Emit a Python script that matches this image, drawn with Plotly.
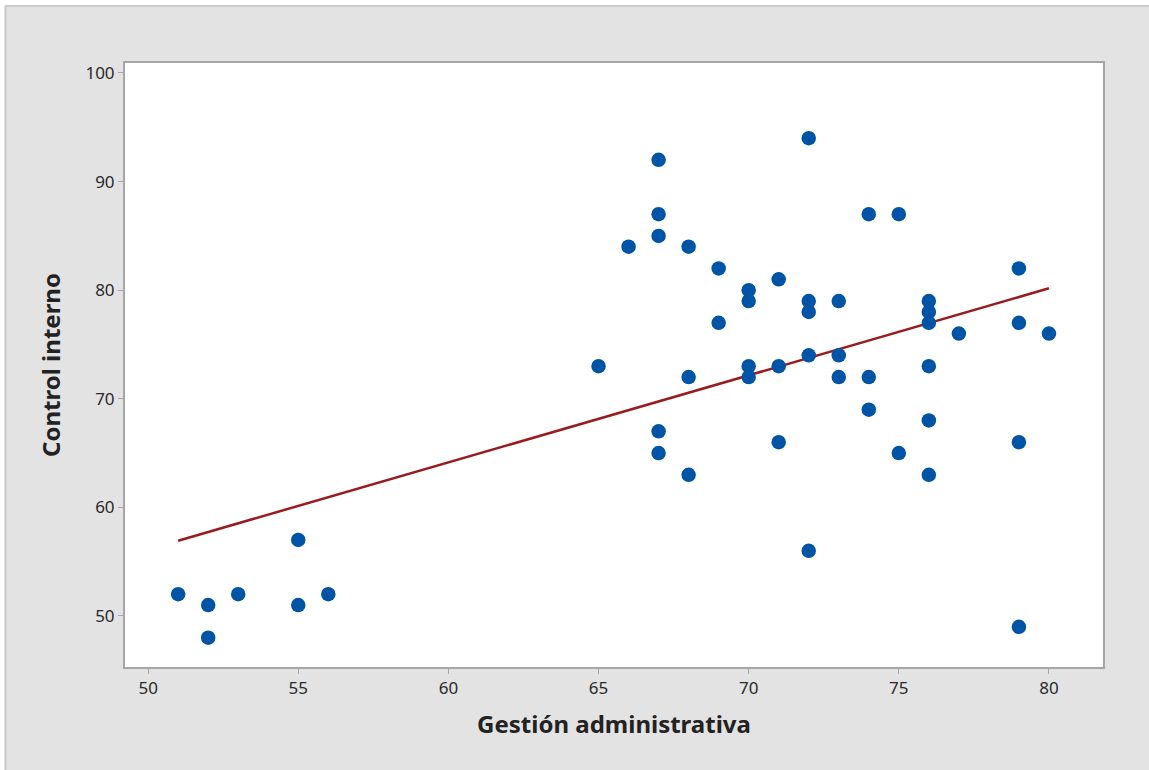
import numpy as np
import plotly.graph_objects as go

gestion = [51, 52, 52, 53, 55, 55, 56, 65, 66, 67, 67, 67, 67, 67, 68, 68, 68,
           69, 69, 70, 70, 70, 70, 71, 71, 71, 72, 72, 72, 72, 72, 73, 73, 73,
           74, 74, 74, 75, 75, 76, 76, 76, 76, 76, 76, 77, 79, 79, 79, 79, 80]
control = [52, 51, 48, 52, 51, 57, 52, 73, 84, 92, 87, 85, 67, 65, 84, 72, 63,
           82, 77, 80, 79, 73, 72, 81, 73, 66, 94, 79, 78, 74, 56, 79, 74, 72,
           87, 72, 69, 87, 65, 79, 78, 77, 73, 68, 63, 76, 82, 77, 66, 49, 76]

x_ticks = [50, 55, 60, 65, 70, 75, 80]
y_ticks = [50, 60, 70, 80, 90, 100]

xa = np.array(gestion, dtype=float)
ya = np.array(control, dtype=float)
slope, intercept = np.polyfit(xa, ya, 1)
x_fit = np.array([xa.min(), xa.max()])
y_fit = intercept + slope * x_fit

fig = go.Figure()
fig.add_trace(go.Scatter(x=x_fit, y=y_fit, mode="lines",
                         line=dict(color="#981b1e", width=2.5),
                         hoverinfo="skip", showlegend=False))
fig.add_trace(go.Scatter(x=gestion, y=control, mode="markers",
                         marker=dict(color="#0054a6", size=14.5, line=dict(width=0)),
                         showlegend=False))

W, H = 1149, 770
L, R, T, B = 125, 46, 63, 103
pw, ph = W - L - R, H - T - B

def px_x(p):
    return (p - L) / pw

def px_y(p):
    return (H - B - p) / ph

# white outer strips (top and left) and light border of the grey panel
fig.add_shape(type="rect", xref="paper", yref="paper", layer="above",
              x0=px_x(0), x1=px_x(W), y0=px_y(5), y1=px_y(0),
              line=dict(width=0), fillcolor="white")
fig.add_shape(type="rect", xref="paper", yref="paper", layer="above",
              x0=px_x(0), x1=px_x(4.5), y0=px_y(H), y1=px_y(0),
              line=dict(width=0), fillcolor="white")
fig.add_shape(type="line", xref="paper", yref="paper", layer="above",
              x0=px_x(5), x1=px_x(W), y0=px_y(6), y1=px_y(6),
              line=dict(color="#cbcbcb", width=2))
fig.add_shape(type="line", xref="paper", yref="paper", layer="above",
              x0=px_x(5.5), x1=px_x(5.5), y0=px_y(H), y1=px_y(6),
              line=dict(color="#cbcbcb", width=2))

fig.update_layout(
    width=W, height=H,
    margin=dict(l=L, r=R, t=T, b=B),
    paper_bgcolor="#e3e3e3",
    plot_bgcolor="white",
    font=dict(family="Noto Sans, Open Sans, sans-serif", color="#222"),
)
axis_common = dict(showgrid=False, zeroline=False, showline=True, mirror=True,
                   linecolor="#a6a6a6", linewidth=2, ticks="outside",
                   ticklen=5, tickwidth=1, tickcolor="#a6a6a6",
                   tickfont=dict(size=17, color="#2a2a2a"))
fig.update_xaxes(range=[49.23, 81.8], tickvals=x_ticks,
                 title=dict(text="<b>Gestión administrativa</b>", font=dict(size=24, color="#222"), standoff=18),
                 **axis_common)
fig.update_yaxes(range=[45.3, 100.92], tickvals=y_ticks,
                 title=dict(text="<b>Control interno</b>", font=dict(size=24, color="#222"), standoff=18),
                 **axis_common)

fig.write_html("out.html")
